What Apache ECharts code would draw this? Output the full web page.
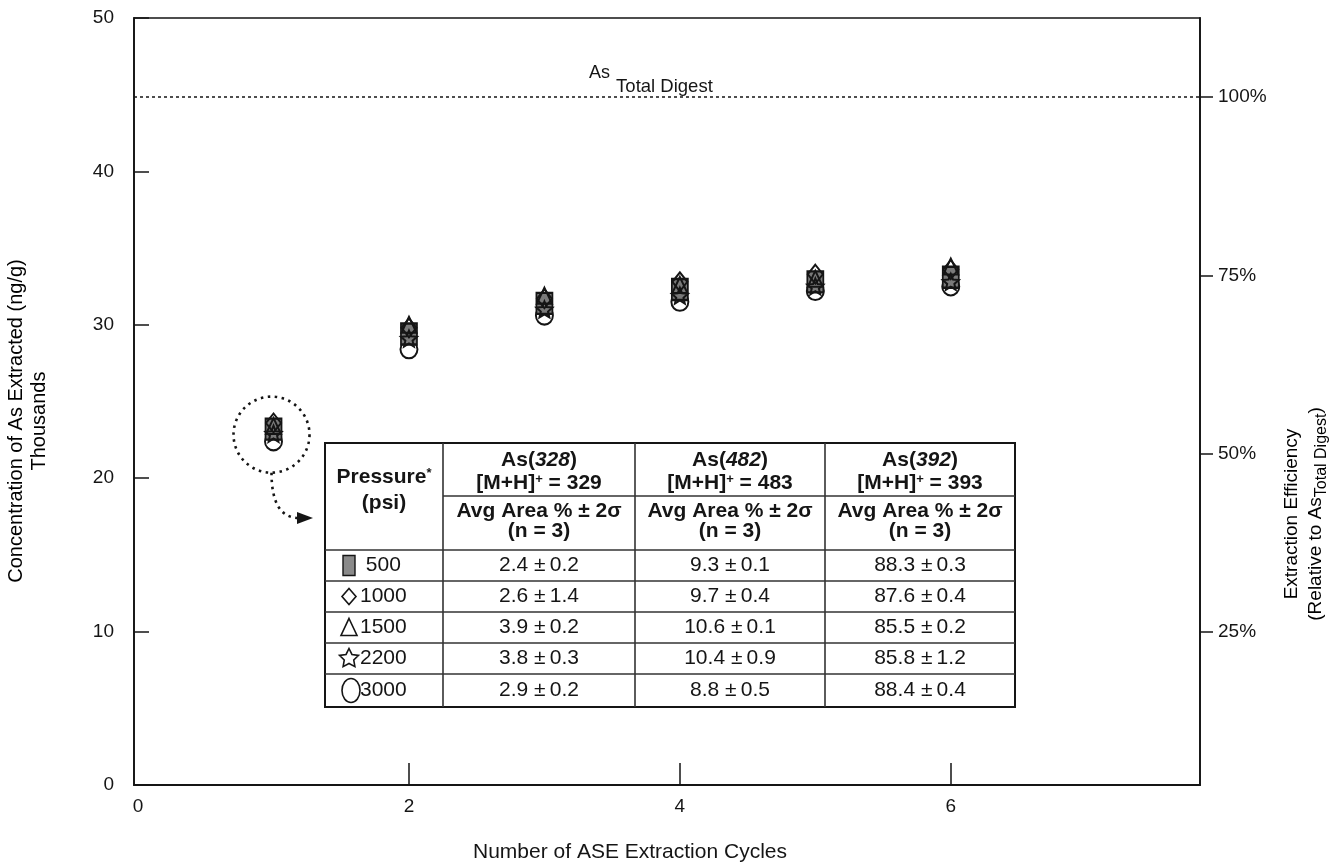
<!DOCTYPE html>
<html>
<head>
<meta charset="utf-8">
<title>ASE extraction of arsenic</title>
<script src="https://cdn.jsdelivr.net/npm/echarts@6/dist/echarts.min.js"></script>
<style>
  html, body { margin: 0; padding: 0; background: #ffffff; }
  #chart { width: 1340px; height: 863px; }
</style>
</head>
<body>
<div id="chart"></div>
<script>
// ---- data -------------------------------------------------------------
// Number of extraction cycles
const cycles = [1, 2, 3, 4, 5, 6];
// Concentration of As extracted (thousands of ng/g), one array per pressure
const conc500  = [23.2, 29.4, 31.4, 32.3, 32.8, 33.1];
const conc1000 = [23.6, 29.8, 31.7, 32.8, 33.3, 33.6];
const conc1500 = [23.4, 30.0, 31.9, 32.6, 33.0, 33.8];
const conc2200 = [22.9, 29.1, 31.0, 31.9, 32.5, 32.8];
const conc3000 = [22.4, 28.4, 30.6, 31.5, 32.2, 32.5];
// As found by total digestion (thousands of ng/g)
const totalDigest = 44.85;

// Tick values
const xTickLabels = [0, 2, 4, 6];
const xTickMarks = [2, 4, 6];
const effTicks = [25, 50, 75, 100];

// Species table: pressure and area % (mean, 2 sigma) for each As species
const pressures = ['500', '1000', '1500', '2200', '3000'];
const species = [
  { name: '328', mh: '329', avg: [2.4, 2.6, 3.9, 3.8, 2.9], sd: [0.2, 1.4, 0.2, 0.3, 0.2] },
  { name: '482', mh: '483', avg: [9.3, 9.7, 10.6, 10.4, 8.8], sd: [0.1, 0.4, 0.1, 0.9, 0.5] },
  { name: '392', mh: '393', avg: [88.3, 87.6, 85.5, 85.8, 88.4], sd: [0.3, 0.4, 0.2, 1.2, 0.4] }
];

// ---- styling ----------------------------------------------------------
const FONT = '"Liberation Sans", Arial, Helvetica, sans-serif';
const INK = '#151515';
const STAR = 'path://M0,-10L2.65,-3.64L9.51,-3.09L4.28,1.39L5.88,8.09L0,4.5L-5.88,8.09L-4.28,1.39L-9.51,-3.09L-2.65,-3.64Z';
const OVAL = 'path://M0,-10A8,10 0 1 1 0,10A8,10 0 1 1 0,-10Z';

const markerStyles = [
  { values: conc3000, symbol: OVAL, size: [17, 18], fill: '#ffffff', z: 2 },
  { values: conc500, symbol: 'rect', size: [16, 21], fill: '#7a7a7a', z: 3 },
  { values: conc2200, symbol: STAR, size: [16, 16], fill: 'rgba(0,0,0,0)', z: 4 },
  { values: conc1500, symbol: 'triangle', size: [15, 16], fill: 'rgba(0,0,0,0)', z: 5 },
  { values: conc1000, symbol: 'diamond', size: [15, 19], fill: 'rgba(0,0,0,0)', z: 6 }
];

const chart = echarts.init(document.getElementById('chart'));

const series = markerStyles.map((m, k) => ({
  type: 'scatter',
  xAxisIndex: 0,
  yAxisIndex: 0,
  symbol: m.symbol,
  symbolSize: m.size,
  z: m.z,
  itemStyle: { color: m.fill, borderColor: INK, borderWidth: 2, opacity: 1 },
  data: cycles.map((c, i) => [c, m.values[i]]),
  markLine: k === 0 ? {
    silent: true,
    symbol: ['none', 'none'],
    label: { show: false },
    lineStyle: { color: INK, width: 1.5, type: [3, 3] },
    data: [{ yAxis: totalDigest }]
  } : undefined
}));

chart.setOption({
  animation: false,
  backgroundColor: '#ffffff',
  textStyle: { fontFamily: FONT, color: INK },
  grid: { left: 134, right: 140, top: 18, bottom: 78, show: true, borderColor: INK, borderWidth: 1.5 },
  xAxis: {
    type: 'value', min: -0.03, max: 7.84,
    splitLine: { show: false },
    axisLine: { show: true, onZero: false, lineStyle: { color: INK, width: 1.8 } },
    axisTick: { show: true, inside: true, length: 22, customValues: xTickMarks, lineStyle: { color: INK, width: 1.5 } },
    axisLabel: { customValues: xTickLabels, fontSize: 19, color: INK, margin: 12, fontFamily: FONT }
  },
  yAxis: [
    {
      type: 'value', min: 0, max: 50, interval: 10, position: 'left',
      splitLine: { show: false },
      axisLine: { show: true, onZero: false, lineStyle: { color: INK, width: 1.8 } },
      axisTick: { show: true, inside: true, length: 15, lineStyle: { color: INK, width: 1.5 } },
      axisLabel: { fontSize: 19, color: INK, margin: 20, fontFamily: FONT }
    },
    {
      type: 'value', min: 3.5, max: 111.1, position: 'right',
      splitLine: { show: false },
      axisLine: { show: true, onZero: false, lineStyle: { color: INK, width: 1.8 } },
      axisTick: { show: true, inside: false, length: 13, customValues: effTicks, lineStyle: { color: INK, width: 1.5 } },
      axisLabel: { customValues: effTicks, formatter: '{value}%', fontSize: 19, color: INK, margin: 18, fontFamily: FONT }
    }
  ],
  series: series
});

// ---- annotations, titles and the species table --------------------------
const px = (x, y) => chart.convertToPixel({ xAxisIndex: 0, yAxisIndex: 0 }, [x, y]);

const firstCycle = [conc500[0], conc1000[0], conc1500[0], conc2200[0], conc3000[0]];
const firstMean = firstCycle.reduce((a, b) => a + b, 0) / firstCycle.length;
const ring = px(cycles[0], firstMean);
const digestAt = px(3.33, totalDigest);

const tbl = { x: 325, y: 443 };
const colX = [0, 118, 310, 500, 690];
const rowY = [0, 53, 107, 138, 169, 200, 231, 264];

const sizeTxt = 21;
const boldRich = {
  b: { fontSize: sizeTxt, fontWeight: 'bold', fontFamily: FONT, color: INK, lineHeight: 24, verticalAlign: 'top' },
  bi: { fontSize: sizeTxt, fontWeight: 'bold', fontStyle: 'italic', fontFamily: FONT, color: INK, lineHeight: 24, verticalAlign: 'top' },
  sup: { fontSize: 13, fontWeight: 'bold', fontFamily: FONT, color: INK, lineHeight: 12, verticalAlign: 'top' }
};

const tableChildren = [];
// frame
tableChildren.push({ type: 'rect', shape: { x: 0, y: 0, width: colX[4], height: rowY[7] },
  style: { fill: '#ffffff', stroke: INK, lineWidth: 2 }, z: 10 });
// column rules
for (let c = 1; c < 4; c++) {
  tableChildren.push({ type: 'line', shape: { x1: colX[c], y1: 0, x2: colX[c], y2: rowY[7] },
    style: { stroke: '#333', lineWidth: 1.6 }, z: 11 });
}
// header split under species names
tableChildren.push({ type: 'line', shape: { x1: colX[1], y1: rowY[1], x2: colX[4], y2: rowY[1] },
  style: { stroke: '#333', lineWidth: 1.6 }, z: 11 });
// row rules
for (let r = 2; r < 7; r++) {
  tableChildren.push({ type: 'line', shape: { x1: 0, y1: rowY[r], x2: colX[4], y2: rowY[r] },
    style: { stroke: '#333', lineWidth: 1.6 }, z: 11 });
}

function cellText(text, cx, cy, rich) {
  return {
    type: 'text', z: 12,
    style: { text: text, x: cx, y: cy, align: 'center', verticalAlign: 'middle', rich: rich,
      fontSize: sizeTxt, fontFamily: FONT, fill: INK }
  };
}

// pressure header
const pCx = (colX[0] + colX[1]) / 2;
tableChildren.push(cellText('{b|Pressure}{sup|*}', pCx, 36, boldRich));
tableChildren.push(cellText('{b|(psi)}', pCx, 62, boldRich));

// species headers and values
species.forEach((sp, k) => {
  const cx = (colX[k + 1] + colX[k + 2]) / 2;
  tableChildren.push(cellText('{b|As(}{bi|' + sp.name + '}{b|)}', cx, 19, boldRich));
  tableChildren.push(cellText('{b|[M+H]}{sup|+}{b| = ' + sp.mh + '}', cx, 42, boldRich));
  tableChildren.push(cellText('{b|Avg Area % \u00b1 2\u03c3}', cx, 70, boldRich));
  tableChildren.push(cellText('{b|(n = 3)}', cx, 90, boldRich));
  sp.avg.forEach((v, r) => {
    const cy = (rowY[r + 2] + rowY[r + 3]) / 2;
    tableChildren.push(cellText(v.toFixed(1) + ' \u00b1\u2009' + sp.sd[r].toFixed(1), cx, cy, null));
  });
});

// pressure rows with their marker keys
const keyX = 24;
pressures.forEach((p, r) => {
  const cy = (rowY[r + 2] + rowY[r + 3]) / 2;
  tableChildren.push({ type: 'text', z: 12,
    style: { text: (p.length < 4 ? ' ' : '') + p, x: 35, y: cy, align: 'left', verticalAlign: 'middle',
      fontSize: sizeTxt, fontFamily: FONT, fill: INK } });
});
const keyStroke = { stroke: INK, lineWidth: 1.6, fill: 'none' };
const cyOf = r => (rowY[r + 2] + rowY[r + 3]) / 2;
tableChildren.push({ type: 'rect', z: 12, shape: { x: keyX - 6, y: cyOf(0) - 10, width: 12, height: 20 },
  style: { stroke: INK, lineWidth: 1.4, fill: '#8a8a8a' } });
tableChildren.push({ type: 'polygon', z: 12,
  shape: { points: [[keyX, cyOf(1) - 8], [keyX + 7, cyOf(1)], [keyX, cyOf(1) + 8], [keyX - 7, cyOf(1)]] },
  style: keyStroke });
tableChildren.push({ type: 'polygon', z: 12,
  shape: { points: [[keyX, cyOf(2) - 9], [keyX + 8, cyOf(2) + 8], [keyX - 8, cyOf(2) + 8]] },
  style: keyStroke });
(function () {
  const cy = cyOf(3), pts = [];
  for (let i = 0; i < 10; i++) {
    const a = -Math.PI / 2 + i * Math.PI / 5;
    const rr = i % 2 === 0 ? 10 : 5;
    pts.push([keyX + rr * Math.cos(a), cy + rr * Math.sin(a)]);
  }
  tableChildren.push({ type: 'polygon', z: 12, shape: { points: pts }, style: keyStroke });
})();
tableChildren.push({ type: 'ellipse', z: 12, shape: { cx: keyX + 2, cy: cyOf(4), rx: 9, ry: 12 }, style: keyStroke });

const arrowTip = [tbl.x - 12, tbl.y + 75];

chart.setOption({
  graphic: [
    // axis titles
    {
      type: 'text', x: 28, y: 421, rotation: Math.PI / 2, z: 20,
      style: {
        text: '{t|Concentration of As Extracted (ng/g)}\n{t|Thousands}',
        align: 'center', verticalAlign: 'middle',
        rich: { t: { fontSize: 20, fontFamily: FONT, color: INK, lineHeight: 23 } }
      }
    },
    {
      type: 'text', x: 1306, y: 514, rotation: Math.PI / 2, z: 20,
      style: {
        text: '{t|Extraction Efficiency}\n{t|(Relative to As}{s|Total Digest}{t|)}',
        align: 'center', verticalAlign: 'middle',
        rich: {
          t: { fontSize: 19, fontFamily: FONT, color: INK, lineHeight: 24, verticalAlign: 'top' },
          s: { fontSize: 16, fontFamily: FONT, color: INK, lineHeight: 20, padding: [10, 0, 0, 0], verticalAlign: 'bottom' }
        }
      }
    },
    {
      type: 'text', x: 630, y: 852, z: 20,
      style: { text: 'Number of ASE Extraction Cycles', align: 'center', verticalAlign: 'middle',
        fontSize: 21, fontFamily: FONT, fill: INK }
    },
    // total digest label: element symbol with subscript
    {
      type: 'text', x: digestAt[0], y: digestAt[1] - 24, z: 20,
      style: { text: 'As', align: 'left', verticalAlign: 'middle', fontSize: 18, fontFamily: FONT, fill: INK }
    },
    {
      type: 'text', x: digestAt[0] + 27, y: digestAt[1] - 10, z: 20,
      style: { text: 'Total Digest', align: 'left', verticalAlign: 'middle', fontSize: 18.5, fontFamily: FONT, fill: INK }
    },
    // ring round the first-cycle cluster and pointer to the table
    {
      type: 'circle', z: 20, shape: { cx: ring[0] - 2, cy: ring[1] + 4, r: 38 },
      style: { fill: 'none', stroke: INK, lineWidth: 2.6, lineDash: [2.5, 4.5] }
    },
    {
      type: 'bezierCurve', z: 20,
      shape: { x1: ring[0] - 2, y1: ring[1] + 42, cpx1: ring[0] - 2, cpy1: arrowTip[1], x2: arrowTip[0] - 14, y2: arrowTip[1] },
      style: { fill: 'none', stroke: INK, lineWidth: 2.6, lineDash: [2.5, 4.5] }
    },
    {
      type: 'polygon', z: 20,
      shape: { points: [[arrowTip[0] - 16, arrowTip[1] - 6], [arrowTip[0], arrowTip[1]], [arrowTip[0] - 16, arrowTip[1] + 6]] },
      style: { fill: INK }
    },
    // species table
    { type: 'group', x: tbl.x, y: tbl.y, z: 10, children: tableChildren }
  ]
});
</script>
</body>
</html>
